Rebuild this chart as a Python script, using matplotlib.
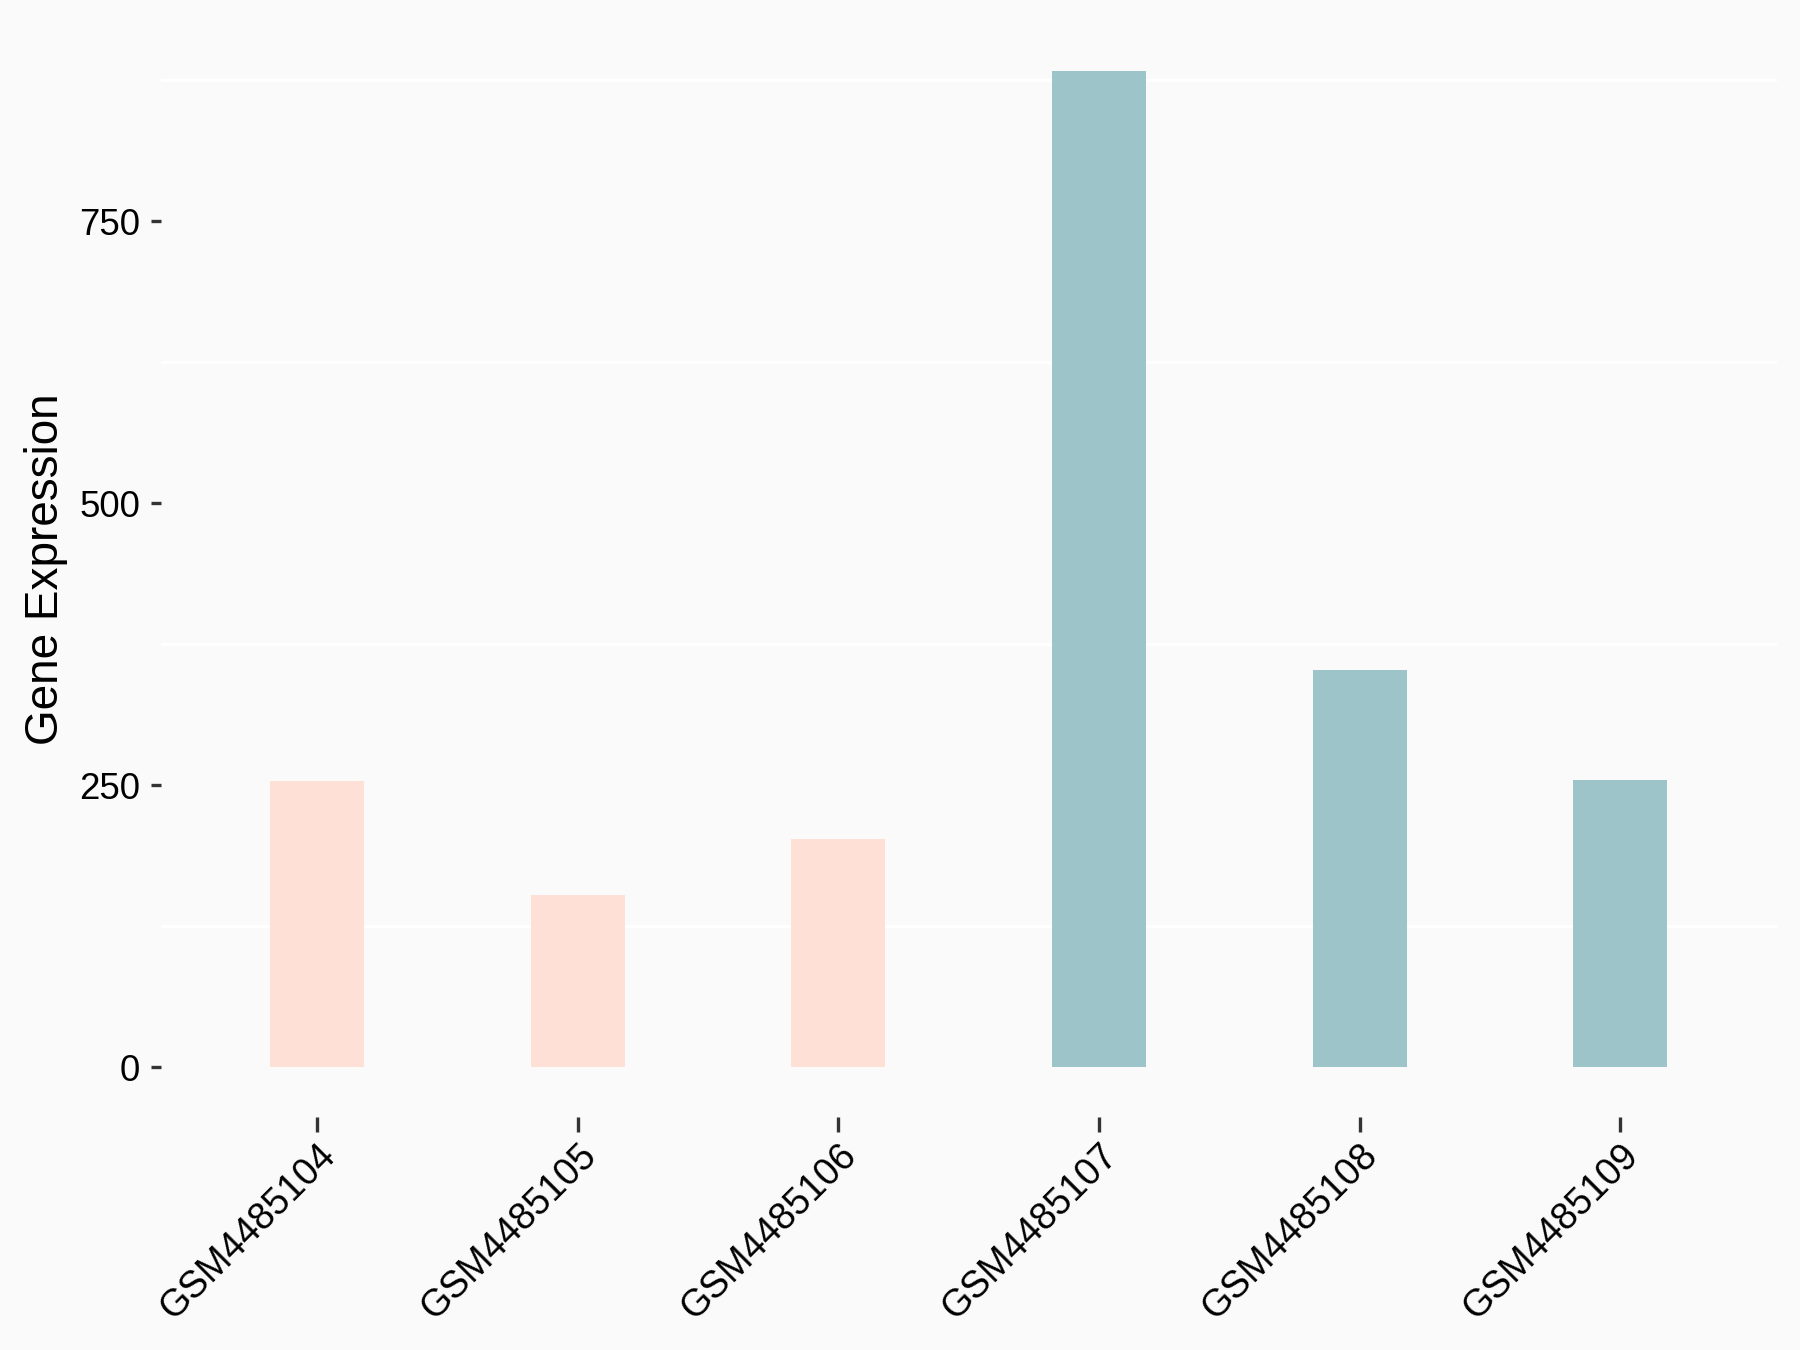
import matplotlib
matplotlib.use("Agg")
import matplotlib.pyplot as plt
import numpy as np

plt.rcParams['font.family'] = ['Liberation Sans', 'DejaVu Sans']

samples = ["GSM4485104", "GSM4485105", "GSM4485106",
           "GSM4485107", "GSM4485108", "GSM4485109"]
expression = [254, 153, 202, 883, 352, 255]
groups = ["a", "a", "a", "b", "b", "b"]
group_colors = {"a": "#FFE0D6", "b": "#9DC4C8"}
y_ticks = [0, 250, 500, 750]
y_minor = [125, 375, 625, 875]

bg = "#FAFAFA"
fig = plt.figure(figsize=(6, 4.5), dpi=300, facecolor=bg)
ax = fig.add_axes([0.0893, 0.1726, 0.8977, 0.8114], facecolor=bg)

x = np.arange(len(samples))
ax.bar(x, expression, width=0.36, color=[group_colors[g] for g in groups],
       zorder=2)

ax.set_xlim(-0.6, len(samples) - 1 + 0.6)
ax.set_ylim(-max(expression) * 0.05, max(expression) * 1.05)

ax.set_yticks(y_ticks)
ax.set_yticks(y_minor, minor=True)
ax.grid(False)
ax.yaxis.grid(True, which="minor", color="white", linewidth=0.8, zorder=0)
ax.tick_params(axis="y", which="minor", length=0)

ax.set_xticks(x)
ax.set_xticklabels(samples, rotation=45, ha="right", va="top",
                   rotation_mode="anchor", fontsize=9.0, color="black")
ax.tick_params(axis="x", length=3.5, width=0.8, color="#333333", pad=1.5)
ax.tick_params(axis="y", which="major", length=2.5, width=0.8,
               color="#333333", labelsize=8.8, labelcolor="black", pad=2.5)

for s in ax.spines.values():
    s.set_visible(False)

ax.set_ylabel("Gene Expression", fontsize=11, labelpad=2.5)

fig.savefig("out.png", dpi=300, facecolor=bg)
